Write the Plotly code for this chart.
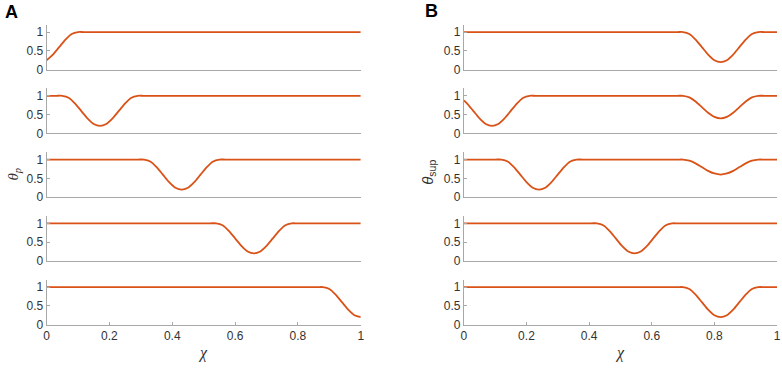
import plotly.graph_objects as go

# ---- data ----
# Panel A: theta_p along chi, five stacked cases
A1_x = [0.00, 0.02, 0.04, 0.06, 0.08, 0.10, 0.12, 1.00]
A1_y = [0.25, 0.40, 0.60, 0.80, 0.95, 1.00, 1.00, 1.00]

A2_x = [0.00, 0.03, 0.05, 0.07, 0.09, 0.11, 0.13, 0.15, 0.17, 0.19, 0.21, 0.23, 0.25, 0.27, 0.29, 0.31, 1.00]
A2_y = [1.00, 1.00, 1.00, 0.95, 0.80, 0.60, 0.40, 0.25, 0.20, 0.25, 0.40, 0.60, 0.80, 0.95, 1.00, 1.00, 1.00]

A3_x = [0.00, 0.29, 0.31, 0.33, 0.35, 0.37, 0.39, 0.41, 0.43, 0.45, 0.47, 0.49, 0.51, 0.53, 0.55, 0.57, 1.00]
A3_y = [1.00, 1.00, 1.00, 0.95, 0.80, 0.60, 0.40, 0.25, 0.20, 0.25, 0.40, 0.60, 0.80, 0.95, 1.00, 1.00, 1.00]

A4_x = [0.00, 0.52, 0.54, 0.56, 0.58, 0.60, 0.62, 0.64, 0.66, 0.68, 0.70, 0.72, 0.74, 0.76, 0.78, 0.80, 1.00]
A4_y = [1.00, 1.00, 1.00, 0.95, 0.80, 0.60, 0.40, 0.25, 0.20, 0.25, 0.40, 0.60, 0.80, 0.95, 1.00, 1.00, 1.00]

A5_x = [0.00, 0.86, 0.88, 0.90, 0.92, 0.94, 0.96, 0.98, 1.00]
A5_y = [1.00, 1.00, 1.00, 0.95, 0.80, 0.60, 0.40, 0.25, 0.20]

# Panel B: theta_sup along chi, five stacked cases
B1_x = [0.00, 0.68, 0.70, 0.72, 0.74, 0.76, 0.78, 0.80, 0.82, 0.84, 0.86, 0.88, 0.90, 0.92, 0.94, 0.96, 1.00]
B1_y = [1.00, 1.00, 1.00, 0.95, 0.80, 0.60, 0.40, 0.25, 0.20, 0.25, 0.40, 0.60, 0.80, 0.95, 1.00, 1.00, 1.00]

B2_x = [0.00, 0.01, 0.03, 0.05, 0.07, 0.09, 0.11, 0.13, 0.15, 0.17, 0.19, 0.21, 0.23,
        0.68, 0.70, 0.72, 0.74, 0.76, 0.78, 0.80, 0.82, 0.84, 0.86, 0.88, 0.90, 0.92, 0.94, 0.96, 1.00]
B2_y = [0.88, 0.80, 0.60, 0.40, 0.25, 0.20, 0.25, 0.40, 0.60, 0.80, 0.95, 1.00, 1.00,
        1.00, 1.00, 0.96, 0.85, 0.70, 0.55, 0.44, 0.40, 0.44, 0.55, 0.70, 0.85, 0.96, 1.00, 1.00, 1.00]

B3_x = [0.00, 0.10, 0.12, 0.14, 0.16, 0.18, 0.20, 0.22, 0.24, 0.26, 0.28, 0.30, 0.32, 0.34, 0.36, 0.38,
        0.68, 0.70, 0.72, 0.74, 0.76, 0.78, 0.80, 0.82, 0.84, 0.86, 0.88, 0.90, 0.92, 0.94, 0.96, 1.00]
B3_y = [1.00, 1.00, 1.00, 0.95, 0.80, 0.60, 0.40, 0.25, 0.20, 0.25, 0.40, 0.60, 0.80, 0.95, 1.00, 1.00,
        1.00, 1.00, 0.97, 0.90, 0.80, 0.70, 0.63, 0.60, 0.63, 0.70, 0.80, 0.90, 0.97, 1.00, 1.00, 1.00]

B4_x = [0.00, 0.405, 0.425, 0.445, 0.465, 0.485, 0.505, 0.525, 0.545, 0.565, 0.585, 0.605, 0.625, 0.645, 0.665, 0.685, 1.00]
B4_y = [1.00, 1.00, 1.00, 0.95, 0.80, 0.60, 0.40, 0.25, 0.20, 0.25, 0.40, 0.60, 0.80, 0.95, 1.00, 1.00, 1.00]

B5_x = [0.00, 0.68, 0.70, 0.72, 0.74, 0.76, 0.78, 0.80, 0.82, 0.84, 0.86, 0.88, 0.90, 0.92, 0.94, 0.96, 1.00]
B5_y = [1.00, 1.00, 1.00, 0.95, 0.80, 0.60, 0.40, 0.25, 0.20, 0.25, 0.40, 0.60, 0.80, 0.95, 1.00, 1.00, 1.00]

X_TICKS = [0, 0.2, 0.4, 0.6, 0.8, 1]
X_TICKTEXT = ["0", "0.2", "0.4", "0.6", "0.8", "1"]
Y_TICKS = [0, 0.5, 1]
Y_TICKTEXT = ["0", "0.5", "1"]

PANEL_A = [(A1_x, A1_y), (A2_x, A2_y), (A3_x, A3_y), (A4_x, A4_y), (A5_x, A5_y)]
PANEL_B = [(B1_x, B1_y), (B2_x, B2_y), (B3_x, B3_y), (B4_x, B4_y), (B5_x, B5_y)]

# ---- layout geometry (pixels) ----
W, H = 782, 368
PANEL_X = [(44, 361), (465, 781)]
ROW_BOTTOM = [71, 136, 201, 266, 331]
ROW_HEIGHT = 46

LINE_COLOR = "#D95319"
AXIS_COLOR = "#a8a8a8"
TEXT_COLOR = "#333333"
FONT = "Liberation Sans, Arial, Helvetica, sans-serif"

fig = go.Figure()
layout = {}
k = 0
for p, panel in enumerate([PANEL_A, PANEL_B]):
    x0, x1 = PANEL_X[p]
    for r, (xs, ys) in enumerate(panel):
        k += 1
        sfx = "" if k == 1 else str(k)
        fig.add_trace(go.Scatter(
            x=xs, y=ys, mode="lines",
            line=dict(color=LINE_COLOR, width=1.8, shape="spline", smoothing=0.8),
            xaxis="x" + sfx, yaxis="y" + sfx, showlegend=False, hoverinfo="skip",
        ))
        bottom = ROW_BOTTOM[r]
        top = bottom - ROW_HEIGHT
        is_last = (r == len(panel) - 1)
        xa = dict(
            domain=[x0 / W, x1 / W], range=[0, 1], anchor="y" + sfx,
            showline=True, linecolor=AXIS_COLOR, linewidth=1,
            showgrid=False, zeroline=False, fixedrange=True,
        )
        if is_last:
            xa.update(
                tickvals=X_TICKS, ticktext=X_TICKTEXT, showticklabels=True,
                ticks="inside", ticklen=3, tickcolor=AXIS_COLOR,
                tickfont=dict(family=FONT, size=12, color=TEXT_COLOR),
                ticklabeloverflow="allow",
            )
        else:
            xa.update(showticklabels=False, ticks="")
        layout["xaxis" + sfx] = xa
        layout["yaxis" + sfx] = dict(
            domain=[1 - bottom / H, 1 - top / H], range=[0, 1.2], anchor="x" + sfx,
            showline=True, linecolor=AXIS_COLOR, linewidth=1,
            showgrid=False, zeroline=False,
            tickvals=Y_TICKS, ticktext=Y_TICKTEXT,
            ticks="inside", ticklen=3, tickcolor=AXIS_COLOR,
            tickfont=dict(family=FONT, size=12, color=TEXT_COLOR),
            fixedrange=True,
        )

annotations = [
    dict(text="<b>A</b>", x=9 / W, y=1 - 12 / H, font=dict(family=FONT, size=18, color="#000000")),
    dict(text="<b>B</b>", x=432 / W, y=1 - 11 / H, font=dict(family=FONT, size=18, color="#000000")),
    dict(text="<i>χ</i>", x=202 / W, y=1 - 360 / H, font=dict(family="Liberation Serif, serif", size=16, color=TEXT_COLOR)),
    dict(text="<i>χ</i>", x=623 / W, y=1 - 360 / H, font=dict(family="Liberation Serif, serif", size=16, color=TEXT_COLOR)),
    dict(text="<i>θ</i><sub><i>p</i></sub>", x=11 / W, y=1 - 177 / H, textangle=-90,
         font=dict(family="Liberation Serif, serif", size=15, color=TEXT_COLOR)),
    dict(text="<i>θ</i><sub>sup</sub>", x=429 / W, y=1 - 176 / H, textangle=-90,
         font=dict(family=FONT, size=15, color=TEXT_COLOR)),
]
for a in annotations:
    a.update(xref="paper", yref="paper", showarrow=False, xanchor="center", yanchor="middle")

fig.update_layout(
    width=W, height=H,
    margin=dict(l=0, r=0, t=0, b=0),
    paper_bgcolor="white", plot_bgcolor="white",
    annotations=annotations,
    **layout,
)

fig.write_html(
    "out.html",
    config={"displayModeBar": False},
    post_script="document.body.style.margin='0';document.body.style.overflow='hidden';",
)
